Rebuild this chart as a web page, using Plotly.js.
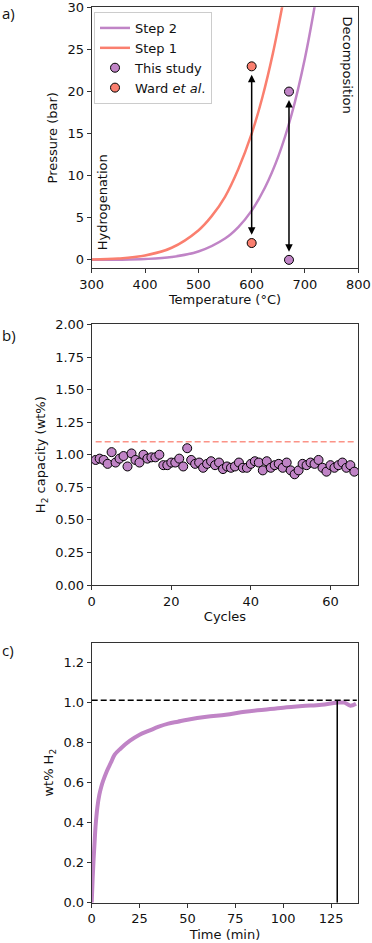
<!DOCTYPE html>
<html>
<head>
<meta charset="utf-8">
<script src="https://cdn.plot.ly/plotly-3.0.1.min.js"></script>
<style>
  body { margin: 0; padding: 0; background: #fff; }
  #chart { width: 372px; height: 943px; }
</style>
</head>
<body>
<div id="chart"></div>
<script>
// panel a: equilibrium curves
var step1T = [300, 350, 400, 450, 500, 525, 550, 575, 600, 620, 640, 660];
var step1P = [0.04, 0.16, 0.52, 1.44, 3.5, 5.2, 7.5, 10.8, 15.0, 19.3, 24.6, 31.0];
var step2T = [300, 350, 400, 450, 500, 550, 575, 600, 625, 650, 675, 700, 720];
var step2P = [0.0, 0.02, 0.1, 0.34, 0.99, 2.54, 3.9, 5.85, 8.6, 12.3, 17.3, 24.0, 30.8];
var pressureTicks = [0, 5, 10, 15, 20, 25, 30];

var studyT = [670, 670];
var studyP = [20, 0];
var wardT = [600, 600];
var wardP = [23, 2];

// panel b: cycling capacity
var cycles = [];
for (var i = 1; i <= 66; i++) cycles.push(i);
var capacity = [0.96, 0.97, 0.96, 0.93, 1.02, 0.94, 0.97, 0.99, 0.91, 1.01,
                0.96, 0.94, 1.00, 0.97, 0.98, 0.98, 1.00, 0.92, 0.92, 0.94,
                0.94, 0.97, 0.91, 1.05, 0.96, 0.93, 0.94, 0.90, 0.93, 0.95,
                0.92, 0.94, 0.89, 0.91, 0.90, 0.91, 0.94, 0.90, 0.90, 0.93,
                0.95, 0.94, 0.88, 0.95, 0.90, 0.92, 0.93, 0.90, 0.94, 0.88,
                0.85, 0.88, 0.93, 0.92, 0.94, 0.93, 0.96, 0.90, 0.87, 0.92,
                0.90, 0.92, 0.94, 0.90, 0.92, 0.87];
var wardCapacity = 1.10;

// panel c: absorption kinetics
var timeMin = [0, 0.5, 1, 1.5, 2, 3, 4, 5, 6, 8, 10, 12, 15, 20, 25, 30, 35, 40, 45, 50,
               60, 70, 80, 90, 100, 110, 120, 128, 132, 135, 138];
var wtH2 = [0, 0.12, 0.22, 0.30, 0.38, 0.48, 0.54, 0.58, 0.61, 0.66, 0.70, 0.74, 0.77, 0.81,
            0.84, 0.86, 0.88, 0.895, 0.905, 0.915, 0.93, 0.94, 0.955, 0.965, 0.975, 0.983,
            0.99, 1.0, 1.0, 0.985, 0.995];
var maxWt = 1.012;
var tMax = 128.2;
var tLast = 138.4;

var purple = '#c084c6';
var salmon = '#fa7f6f';
var font = 'DejaVu Sans, sans-serif';

var data = [
  {type: 'scatter', x: step2T, y: step2P, mode: 'lines', name: 'Step 2',
   line: {color: purple, width: 2.5, shape: 'spline'}, xaxis: 'x', yaxis: 'y'},
  {type: 'scatter', x: step1T, y: step1P, mode: 'lines', name: 'Step 1',
   line: {color: salmon, width: 2.5, shape: 'spline'}, xaxis: 'x', yaxis: 'y'},
  {type: 'scatter', x: studyT, y: studyP, mode: 'markers', name: 'This study',
   marker: {color: purple, size: 9, line: {color: '#000', width: 1}}, cliponaxis: false,
   xaxis: 'x', yaxis: 'y'},
  {type: 'scatter', x: wardT, y: wardP, mode: 'markers', name: 'Ward <i>et al</i>.',
   marker: {color: salmon, size: 9, line: {color: '#000', width: 1}},
   xaxis: 'x', yaxis: 'y'},
  {type: 'scatter', x: [1, cycles[cycles.length - 1]], y: [wardCapacity, wardCapacity],
   mode: 'lines', showlegend: false,
   line: {color: 'rgba(250,128,114,0.85)', width: 1.5, dash: '6px,3px'},
   xaxis: 'x2', yaxis: 'y2'},
  {type: 'scatter', x: cycles, y: capacity, mode: 'markers', showlegend: false,
   marker: {color: purple, size: 9, line: {color: '#000', width: 1}},
   xaxis: 'x2', yaxis: 'y2'},
  {type: 'scatter', x: timeMin, y: wtH2, mode: 'lines', showlegend: false,
   line: {color: purple, width: 4, shape: 'spline'}, xaxis: 'x3', yaxis: 'y3'},
  {type: 'scatter', x: [0, tLast], y: [maxWt, maxWt], mode: 'lines', showlegend: false,
   line: {color: '#000', width: 1.5, dash: '6px,3px'}, xaxis: 'x3', yaxis: 'y3'},
  {type: 'scatter', x: [tMax, tMax], y: [0, maxWt], mode: 'lines', showlegend: false,
   line: {color: '#000', width: 1.5}, xaxis: 'x3', yaxis: 'y3'}
];

var axBase = {
  showline: true, mirror: true, linecolor: '#333', linewidth: 1,
  ticks: 'outside', ticklen: 4, tickcolor: '#333',
  showgrid: false, zeroline: false, ticklabeloverflow: 'allow',
  tickfont: {family: font, size: 13, color: '#111'}
};
function ax(extra) {
  var o = {};
  for (var k in axBase) o[k] = axBase[k];
  for (var k2 in extra) o[k2] = extra[k2];
  return o;
}
var titleFont = {family: font, size: 13, color: '#111'};
var xdom = [0.2465, 0.9632];

function arrow(xv, lo, hi) {
  return {x: xv, y: hi - 1.0, ax: xv, ay: lo + 0.8, xref: 'x', yref: 'y', axref: 'x', ayref: 'y',
          text: '', showarrow: true, arrowhead: 2, arrowside: 'end+start',
          arrowsize: 1, arrowwidth: 1.5, arrowcolor: '#000'};
}

var layout = {
  width: 372, height: 943,
  margin: {l: 0, r: 0, t: 0, b: 0},
  paper_bgcolor: '#fff', plot_bgcolor: '#fff',
  showlegend: true,
  legend: {x: 0.2527, y: 0.9873, xanchor: 'left', yanchor: 'top',
           bgcolor: 'rgba(255,255,255,0.8)', bordercolor: '#ccc', borderwidth: 1,
           font: {family: font, size: 13, color: '#111'}, itemwidth: 30},
  xaxis: ax({domain: xdom, anchor: 'y', range: [300, 800], dtick: 100,
             title: {text: 'Temperature (°C)', font: titleFont, standoff: 4}}),
  yaxis: ax({domain: [0.7155, 0.9923], anchor: 'x', range: [-1, 30.02],
             tickmode: 'array', tickvals: pressureTicks,
             title: {text: 'Pressure (bar)', font: titleFont, standoff: 6}}),
  xaxis2: ax({domain: xdom, anchor: 'y2', range: [0, 67], dtick: 20,
              title: {text: 'Cycles', font: titleFont, standoff: 4}}),
  yaxis2: ax({domain: [0.3796, 0.6561], anchor: 'x2', range: [0, 2.001], dtick: 0.25,
              tickformat: '.2f',
              title: {text: 'H<sub>2</sub> capacity (wt%)', font: titleFont, standoff: 6}}),
  xaxis3: ax({domain: xdom, anchor: 'y3', range: [0, 139.2], dtick: 25,
              title: {text: 'Time (min)', font: titleFont, standoff: 4}}),
  yaxis3: ax({domain: [0.0427, 0.3185], anchor: 'x3', range: [0, 1.3], dtick: 0.2,
              tickformat: '.1f',
              title: {text: 'wt% H<sub>2</sub>', font: titleFont, standoff: 6}}),
  annotations: [
    arrow(wardT[0], wardP[1], wardP[0]),
    arrow(studyT[0], studyP[1], studyP[0]),
    {x: 320.6, y: 6.8, xref: 'x', yref: 'y', text: 'Hydrogenation', textangle: -90,
     showarrow: false, font: titleFont},
    {x: 779, y: 23.2, xref: 'x', yref: 'y', text: 'Decomposition', textangle: 90,
     showarrow: false, font: titleFont},
    {x: 0, y: 1 - 1 / 943, xref: 'paper', yref: 'paper', xanchor: 'left', yanchor: 'top',
     text: 'a)', showarrow: false, font: {family: 'Open Sans, sans-serif', size: 15, color: '#111'}},
    {x: 0, y: 1 - 323 / 943, xref: 'paper', yref: 'paper', xanchor: 'left', yanchor: 'top',
     text: 'b)', showarrow: false, font: {family: 'Open Sans, sans-serif', size: 15, color: '#111'}},
    {x: 0, y: 1 - 638 / 943, xref: 'paper', yref: 'paper', xanchor: 'left', yanchor: 'top',
     text: 'c)', showarrow: false, font: {family: 'Open Sans, sans-serif', size: 15, color: '#111'}}
  ]
};

Plotly.newPlot('chart', data, layout, {staticPlot: true});
</script>
</body>
</html>
